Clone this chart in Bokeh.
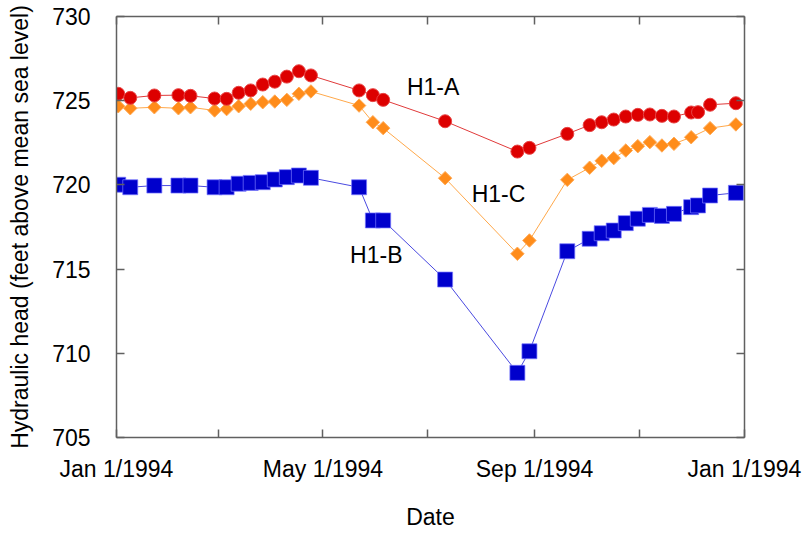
import pandas as pd
from bokeh.plotting import figure
from bokeh.models import Range1d, FixedTicker, DatetimeAxis, LinearAxis
from bokeh.core.properties import value
from bokeh.embed import file_html
from bokeh.resources import INLINE

# ---- data ----
dates_a = ["1994-01-02", "1994-01-09", "1994-01-23", "1994-02-06", "1994-02-13", "1994-02-27",
           "1994-03-06", "1994-03-13", "1994-03-20", "1994-03-27", "1994-04-03", "1994-04-10",
           "1994-04-17", "1994-04-24", "1994-05-22", "1994-05-30", "1994-06-05", "1994-07-11",
           "1994-08-22", "1994-08-29", "1994-09-20", "1994-10-03", "1994-10-10", "1994-10-17",
           "1994-10-24", "1994-10-31", "1994-11-07", "1994-11-14", "1994-11-21", "1994-12-01",
           "1994-12-05", "1994-12-12", "1994-12-27"]
head_a = [725.41, 725.17, 725.31, 725.33, 725.29, 725.13, 725.11, 725.47, 725.61, 725.96, 726.13,
          726.43, 726.75, 726.50, 725.61, 725.33, 725.05, 723.78, 721.98, 722.20, 723.03, 723.55,
          723.72, 723.88, 724.06, 724.16, 724.18, 724.10, 724.06, 724.30, 724.32, 724.76, 724.85]

dates_c = ["1994-01-02", "1994-01-09", "1994-01-23", "1994-02-06", "1994-02-13", "1994-02-27",
           "1994-03-06", "1994-03-13", "1994-03-20", "1994-03-27", "1994-04-03", "1994-04-10",
           "1994-04-17", "1994-04-24", "1994-05-22", "1994-05-30", "1994-06-05", "1994-07-11",
           "1994-08-22", "1994-08-29", "1994-09-20", "1994-10-03", "1994-10-10", "1994-10-17",
           "1994-10-24", "1994-10-31", "1994-11-07", "1994-11-14", "1994-11-21", "1994-12-01",
           "1994-12-12", "1994-12-27"]
head_c = [724.67, 724.55, 724.61, 724.55, 724.61, 724.42, 724.50, 724.67, 724.82, 724.91, 724.95,
          725.05, 725.41, 725.55, 724.71, 723.72, 723.37, 720.40, 715.91, 716.70, 720.30, 721.02,
          721.43, 721.59, 722.04, 722.30, 722.54, 722.34, 722.44, 722.83, 723.37, 723.59]

dates_b = dates_a
head_b = [720.01, 719.86, 719.96, 719.96, 719.96, 719.86, 719.86, 720.07, 720.12, 720.16, 720.32,
          720.46, 720.56, 720.42, 719.86, 717.89, 717.89, 714.38, 708.84, 710.12, 716.06, 716.80,
          717.13, 717.29, 717.73, 717.99, 718.22, 718.16, 718.28, 718.68, 718.78, 719.37, 719.53]

tick_dates = ["1994-01-01", "1994-03-01", "1994-05-01", "1994-07-01", "1994-09-01", "1994-11-01", "1995-01-01"]
tick_labels = ["Jan 1/1994", "", "May 1/1994", "", "Sep 1/1994", "", "Jan 1/1994"]
y_ticks = [705, 710, 715, 720, 725, 730]

label_names = ["H1-A", "H1-C", "H1-B"]
label_dates = ["1994-07-04", "1994-08-11", "1994-06-01"]
label_heads = [725.84, 719.46, 715.81]

# ---- figure ----
FONT = "Liberation Sans"
def ms(d):
    return pd.Timestamp(d).value / 1e6

xa = pd.to_datetime(dates_a)
xb = pd.to_datetime(dates_b)
xc = pd.to_datetime(dates_c)

p = figure(width=806, height=533, x_axis_type="datetime",
           x_range=Range1d(ms(tick_dates[0]), ms(tick_dates[-1])),
           y_range=Range1d(705, 730),
           output_backend="svg", toolbar_location=None,
           min_border_left=116, min_border_right=62, min_border_top=16, min_border_bottom=96)
p.outline_line_color = None
p.grid.visible = False
p.background_fill_color = "white"

tick_ms = [ms(d) for d in tick_dates]
AX = "#606060"

def style_axis(ax, labels=True):
    ax.axis_line_color = AX
    ax.axis_line_width = 1.5
    ax.major_tick_line_color = AX
    ax.major_tick_line_width = 1.5
    ax.major_tick_in = 8
    ax.major_tick_out = 0
    ax.minor_tick_line_color = None
    ax.major_label_text_font = FONT
    ax.major_label_text_color = "black"
    ax.axis_label_text_font = FONT
    ax.axis_label_text_font_style = "normal"
    ax.axis_label_text_color = "black"
    ax.axis_label_text_font_size = "23px"
    if labels:
        ax.major_label_text_font_size = "23px"
    else:
        ax.major_label_text_font_size = "0px"
        ax.major_label_standoff = 0

xax = p.xaxis[0]
xax.ticker = FixedTicker(ticks=tick_ms)
xax.major_label_overrides = {t: l for t, l in zip(tick_ms, tick_labels)}
xax.axis_label = "Date"
style_axis(xax)
xax.major_label_standoff = 18
xax.axis_label_standoff = 19

yax = p.yaxis[0]
yax.ticker = FixedTicker(ticks=y_ticks)
yax.axis_label = "Hydraulic head (feet above mean sea level)"
style_axis(yax)
yax.major_label_standoff = 26
yax.axis_label_standoff = 16

top = DatetimeAxis(ticker=FixedTicker(ticks=tick_ms))
top.major_label_overrides = {t: "" for t in tick_ms}
style_axis(top, labels=False)
p.add_layout(top, "above")

right = LinearAxis(ticker=FixedTicker(ticks=y_ticks))
right.major_label_overrides = {t: "" for t in y_ticks}
style_axis(right, labels=False)
p.add_layout(right, "right")

# lines
p.line(xa, head_a, line_color="#e03a3a", line_width=1)
p.line(xc, head_c, line_color="#ffa84a", line_width=1)
p.line(xb, head_b, line_color="#4a4ae0", line_width=1)

# markers
p.scatter(xb, head_b, marker="square", size=15, fill_color="#0000cc",
          line_color="#7777ff", line_alpha=0.7, line_width=1)
p.scatter(xc, head_c, marker="square", size=9.5, angle=0.785398, fill_color="#ff8c1a",
          line_color="#ffaa55", line_width=1)
p.scatter(xa, head_a, marker="circle", size=13, fill_color="#dd0000",
          line_color="#e84444", line_width=1)

p.text(x=pd.to_datetime(label_dates), y=label_heads, text=label_names,
       text_font=value(FONT), text_font_size="23px", text_color="black",
       text_align="center", text_baseline="middle")

open("out.html", "w").write(file_html(p, INLINE))
